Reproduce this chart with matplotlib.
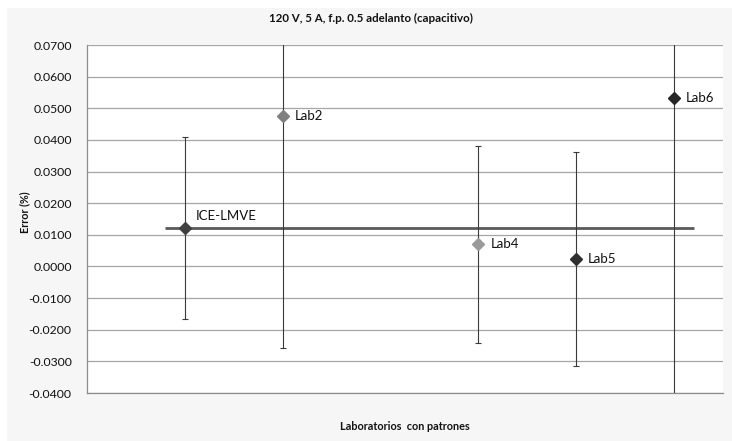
import matplotlib
matplotlib.use("Agg")
import matplotlib.pyplot as plt
from matplotlib.patches import Rectangle
from matplotlib.ticker import FuncFormatter

plt.rcParams['font.family'] = ['Lato', 'DejaVu Sans']

labs = ["ICE-LMVE", "Lab2", "Lab4", "Lab5", "Lab6"]
x_pos = [1, 2, 4, 5, 6]
errors = [0.0122, 0.0476, 0.0070, 0.0024, 0.0532]
uncert = [0.0288, 0.0735, 0.0311, 0.0339, 0.1000]
marker_colors = ["#404040", "#808080", "#9a9a9a", "#303030", "#262626"]
ref_value = 0.0122
ref_x = [0.8, 6.2]
yticks = [-0.04, -0.03, -0.02, -0.01, 0.0, 0.01, 0.02, 0.03, 0.04, 0.05, 0.06, 0.07]

W, H = 732, 441
fig = plt.figure(figsize=(W / 100, H / 100), dpi=100, facecolor="white")
fig.patches.append(Rectangle((7 / W, 0), 1 - 7 / W, 1 - 8 / H, transform=fig.transFigure,
                             facecolor="#f6f6f6", edgecolor="none", zorder=-10))

ax = fig.add_axes([87 / W, 1 - 393 / H, (723 - 87) / W, (393 - 45) / H])
ax.set_facecolor("white")
ax.set_xlim(0, 6.5)
ax.set_ylim(-0.04, 0.07)
ax.set_yticks(yticks)
ax.yaxis.set_major_formatter(FuncFormatter(lambda v, p: f"{v:.4f}"))
ax.set_xticks([])
ax.tick_params(axis='y', length=0, pad=11, labelsize=8.8, labelcolor="#111111")
ax.grid(axis='y', color="#a6a6a6", linewidth=0.9)
ax.set_axisbelow(True)
for s in ["top", "right"]:
    ax.spines[s].set_visible(False)
for s in ["left", "bottom"]:
    ax.spines[s].set_color("#8c8c8c")
    ax.spines[s].set_linewidth(0.9)

# reference line
ax.plot(ref_x, [ref_value, ref_value], color="#5a5a5a", linewidth=2.0, zorder=3, solid_capstyle="butt")

for xi, e, u, c, lab in zip(x_pos, errors, uncert, marker_colors, labs):
    ax.errorbar([xi], [e], yerr=[u], fmt="none", ecolor="#3a3a3a", elinewidth=0.8,
                capsize=2.3, capthick=0.8, zorder=4)
    ax.plot([xi], [e], marker="D", markersize=6.5, color=c, linestyle="none", zorder=5)
    if lab == "ICE-LMVE":
        ax.annotate(lab, (xi, e), xytext=(11, 12), textcoords="offset pixels",
                    ha="left", va="center", fontsize=9.5, color="#111111")
    else:
        ax.annotate(lab, (xi, e), xytext=(12, 0), textcoords="offset pixels",
                    ha="left", va="center", fontsize=9.5, color="#111111")

fig.text(371 / W, 1 - 18 / H, "120 V, 5 A, f.p. 0.5 adelanto (capacitivo)", ha="center",
         va="center", fontsize=8.3, fontweight="bold", color="#111111")
fig.text(405 / W, 1 - 427 / H, "Laboratorios  con patrones", ha="center", va="center",
         fontsize=7.8, fontweight="bold", color="#111111")
fig.text(25 / W, 1 - 212 / H, "Error (%)", ha="center", va="center", rotation=90,
         fontsize=7.8, fontweight="bold", color="#111111")

fig.savefig("out.png", dpi=100, facecolor="white")
